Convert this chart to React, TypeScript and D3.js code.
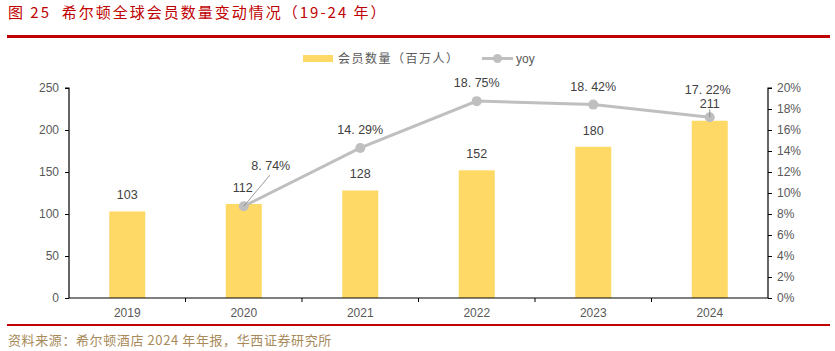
import React, { useEffect, useRef } from 'react'
import * as d3 from 'd3'

// 希尔顿全球会员数量变动情况
const years = ['2019', '2020', '2021', '2022', '2023', '2024']
const members = [103, 112, 128, 152, 180, 211]
const yoyYears = ['2020', '2021', '2022', '2023', '2024']
const yoy = [8.74, 14.29, 18.75, 18.42, 17.22]
const yoyLabels = ['8. 74%', '14. 29%', '18. 75%', '18. 42%', '17. 22%']
const leftTicks = [0, 50, 100, 150, 200, 250]
const rightTicks = [0, 2, 4, 6, 8, 10, 12, 14, 16, 18, 20]

const W = 835
const H = 351
const BAR = '#FFD966'
const LINE = '#BFBFBF'
const TXT = '#404040'
const FONT = 'Arial, "Liberation Sans", "Noto Sans CJK SC", sans-serif'
const CJK = '"Noto Sans CJK SC", sans-serif'

const App = () => {
  const ref = useRef<SVGSVGElement>(null)

  useEffect(() => {
    const svg = d3.select(ref.current)
    svg.selectAll('*').remove()

    // title + rules
    svg.append('text').attr('x', 8).attr('y', 18).attr('fill', '#C00000')
      .style('font-family', CJK).style('font-size', '15px').style('white-space', 'pre')
      .style('letter-spacing', '2px')
      .text('图 25  希尔顿全球会员数量变动情况（19-24 年）')
    svg.append('rect').attr('x', 7).attr('y', 35).attr('width', 823).attr('height', 3).attr('fill', '#C00000')
    svg.append('rect').attr('x', 7).attr('y', 324).attr('width', 823).attr('height', 2).attr('fill', '#C00000')
    svg.append('text').attr('x', 8).attr('y', 345).attr('fill', '#A88A5A')
      .style('font-family', CJK).style('font-size', '13px').style('letter-spacing', '0.6px')
      .text('资料来源：希尔顿酒店 2024 年年报，华西证券研究所')

    const left = 69, right = 768, top = 88, bottom = 298
    const x = d3.scaleBand().domain(years).range([left, right])
    const y = d3.scaleLinear().domain([0, 250]).range([bottom, top])
    const y2 = d3.scaleLinear().domain([0, 20]).range([bottom, top])
    const cx = (d: string) => x(d)! + x.bandwidth() / 2

    // bars
    svg.append('g').selectAll('rect').data(members).enter().append('rect')
      .attr('x', (_d, i) => cx(years[i]) - 18)
      .attr('y', (d) => y(d))
      .attr('width', 36)
      .attr('height', (d) => bottom - y(d))
      .attr('fill', BAR)

    // axes
    const gl = svg.append('g').attr('transform', `translate(${left},0)`)
      .call(d3.axisLeft(y).tickValues(leftTicks).tickSize(4).tickPadding(6))
    const gr = svg.append('g').attr('transform', `translate(${right},0)`)
      .call(d3.axisRight(y2).tickValues(rightTicks).tickSize(4).tickPadding(5).tickFormat((d) => `${d}%`))
    const gb = svg.append('g').attr('transform', `translate(0,${bottom})`)
      .call(d3.axisBottom(x).tickSize(0).tickPadding(10))
    ;[gl, gr, gb].forEach((g) => {
      g.selectAll('path').attr('stroke', '#000').attr('stroke-width', 1.2)
      g.selectAll('line').attr('stroke', '#000')
      g.selectAll('text').attr('fill', '#595959').style('font-family', FONT).style('font-size', '12px')
    })
    gl.select('path').attr('d', `M-4,${top}H0V${bottom}`)
    gr.select('path').attr('d', `M4,${top}H0V${bottom}`)
    gb.select('path').attr('d', `M${left},0H${right}`)
    // band boundary ticks
    gb.append('g').selectAll('line').data(years.slice(1)).enter().append('line')
      .attr('x1', (d) => x(d)!).attr('x2', (d) => x(d)!)
      .attr('y1', 0).attr('y2', 4).attr('stroke', '#000')

    // bar labels
    svg.append('g').selectAll('text').data(members).enter().append('text')
      .attr('x', (_d, i) => cx(years[i]) - (i === 1 ? 1 : 0))
      .attr('y', (d, i) => (i === 5 ? y2(yoy[4]) - 9 : y(d) - 12))
      .attr('text-anchor', 'middle').attr('fill', TXT)
      .style('font-family', FONT).style('font-size', '12.5px')
      .text((d) => d)

    // yoy line
    const line = d3.line<number>().x((_d, i) => cx(yoyYears[i])).y((d) => y2(d))
    svg.append('path').datum(yoy).attr('d', line).attr('fill', 'none')
      .attr('stroke', LINE).attr('stroke-width', 3)
    svg.append('g').selectAll('circle').data(yoy).enter().append('circle')
      .attr('cx', (_d, i) => cx(yoyYears[i])).attr('cy', (d) => y2(d)).attr('r', 5)
      .attr('fill', LINE)

    // leader lines
    svg.append('line').attr('x1', cx('2020')).attr('y1', y2(8.74))
      .attr('x2', cx('2020') + 26).attr('y2', y2(8.74) - 31).attr('stroke', '#808080').attr('stroke-width', 0.8)
    svg.append('line').attr('x1', cx('2024')).attr('y1', y2(17.22))
      .attr('x2', cx('2024')).attr('y2', y2(17.22) - 8).attr('stroke', '#808080').attr('stroke-width', 0.8)

    // yoy labels
    svg.append('g').selectAll('text').data(yoy).enter().append('text')
      .attr('x', (_d, i) => cx(yoyYears[i]) + (i === 0 ? 27 : i === 4 ? -2 : 0))
      .attr('y', (d, i) => (i === 0 ? y2(d) - 36 : i === 4 ? y2(d) - 23 : y2(d) - 14))
      .attr('text-anchor', 'middle').attr('fill', TXT)
      .style('font-family', FONT).style('font-size', '12.5px')
      .text((_d, i) => yoyLabels[i])

    // legend
    const lg = svg.append('g')
    lg.append('rect').attr('x', 303).attr('y', 55).attr('width', 30).attr('height', 7).attr('fill', BAR)
    lg.append('text').attr('x', 338).attr('y', 63).attr('fill', '#595959')
      .style('font-family', CJK).style('font-size', '12px').style('letter-spacing', '1.5px').text('会员数量（百万人）')
    lg.append('line').attr('x1', 482).attr('x2', 513).attr('y1', 58.5).attr('y2', 58.5)
      .attr('stroke', LINE).attr('stroke-width', 3)
    lg.append('circle').attr('cx', 497.5).attr('cy', 58.5).attr('r', 4.5).attr('fill', LINE)
    lg.append('text').attr('x', 516).attr('y', 63).attr('fill', '#595959')
      .style('font-family', FONT).style('font-size', '12px').text('yoy')
  }, [])

  return <svg ref={ref} width={W} height={H} style={{ position: 'absolute', left: 0, top: 0, background: '#fff' }} />
}

export default App
